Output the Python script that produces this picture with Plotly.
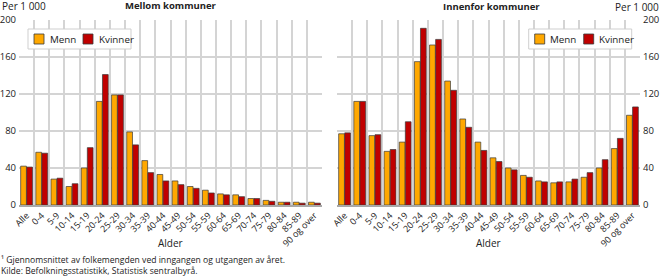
import plotly.graph_objects as go

categories = ["Alle", "0-4", "5-9", "10-14", "15-19", "20-24", "25-29", "30-34", "35-39",
              "40-44", "45-49", "50-54", "55-59", "60-64", "65-69", "70-74", "75-79",
              "80-84", "85-89", "90 og over"]

mellom_menn = [42, 57, 28, 20, 40, 112, 119, 79, 48, 33, 26, 20, 16, 12, 11, 7, 5, 3, 3, 3]
mellom_kvinner = [41, 56, 29, 23, 62, 141, 119, 65, 35, 26, 22, 18, 13, 11, 9, 7, 4, 3, 2, 2]
innen_menn = [77, 112, 75, 58, 68, 155, 173, 134, 93, 68, 51, 40, 32, 26, 24, 25, 30, 40, 61, 97]
innen_kvinner = [78, 112, 76, 60, 90, 191, 179, 124, 84, 59, 47, 38, 30, 25, 25, 28, 35, 49, 72, 106]

series_names = ["Menn", "Kvinner"]
yticks = [0, 40, 80, 120, 160, 200]

W, H = 662, 278
FONT = "Open Sans"
ORANGE = "#FFA800"
RED = "#C00000"
COLORS = [ORANGE, RED]
GRID = "#D4D4D4"
TXT = "#222222"
EDGE = "#3a3a3a"

x = list(range(len(categories)))

fig = go.Figure()
for vals, name, col, xa, ya in [
    (mellom_menn, series_names[0], ORANGE, "x", "y"),
    (mellom_kvinner, series_names[1], RED, "x", "y"),
    (innen_menn, series_names[0], ORANGE, "x2", "y2"),
    (innen_kvinner, series_names[1], RED, "x2", "y2"),
]:
    fig.add_trace(go.Bar(x=x, y=vals, name=name, marker=dict(color=col, line=dict(color=EDGE, width=0.7)),
                         xaxis=xa, yaxis=ya, showlegend=False))

ydom = [1 - 205 / H, 1 - 20 / H]
xdom1 = [19 / W, 322 / W]
xdom2 = [337 / W, 640 / W]

def xaxis(dom, anchor):
    return dict(domain=dom, anchor=anchor, range=[-0.5, len(categories) - 0.5],
                tickvals=x, ticktext=categories, tickangle=-45, showgrid=False,
                ticks="", tickfont=dict(size=9, color=TXT), ticklabelstandoff=0,
                minor=dict(tickvals=[i + 0.5 for i in range(-1, len(categories))], showgrid=True,
                           gridcolor=GRID, gridwidth=1.5, ticks=""),
                showline=True, linecolor="#A8A8A8", linewidth=1.5, mirror=False,
                zeroline=False, automargin=False)

def yaxis(anchor, side):
    return dict(domain=ydom, anchor=anchor, range=[0, 200], tickvals=yticks, side=side,
                showgrid=True, gridcolor=GRID, gridwidth=1.5, zeroline=False,
                tickfont=dict(size=9.5, color=TXT), ticks="", ticklabelstandoff=2,
                automargin=False)

fig.update_layout(
    width=W, height=H,
    margin=dict(l=0, r=0, t=0, b=0),
    paper_bgcolor="white", plot_bgcolor="white",
    font=dict(family=FONT, size=9, color=TXT),
    barmode="group", bargap=0.2, bargroupgap=0.05,
    xaxis=xaxis(xdom1, "y"), yaxis=yaxis("x", "left"),
    xaxis2=xaxis(xdom2, "y2"), yaxis2=yaxis("x2", "right"),
    showlegend=False,
)

def px(v):
    return v / W

def py(v):
    return 1 - v / H

# Legend boxes
shapes = []
ann = []
for x0 in (28, 528.7):
    shapes.append(dict(type="rect", xref="paper", yref="paper", x0=px(x0), x1=px(x0 + 103),
                       y0=py(49), y1=py(29), line=dict(color="#CFCFCF", width=1), fillcolor="white",
                       layer="above"))
    for i, (name, col) in enumerate(zip(series_names, COLORS)):
        sx = x0 + 6 + i * 49
        shapes.append(dict(type="rect", xref="paper", yref="paper", x0=px(sx), x1=px(sx + 10),
                           y0=py(44), y1=py(34), line=dict(color=EDGE, width=0.8), fillcolor=col,
                           layer="above"))
        ann.append(dict(text=name, x=px(sx + 13.5), y=py(39), xref="paper", yref="paper",
                        xanchor="left", yanchor="middle", showarrow=False,
                        font=dict(size=9.8, color=TXT)))

ann += [
    dict(text="Per 1 000", x=0, y=py(6), xref="paper", yref="paper", xanchor="left", yanchor="middle",
         showarrow=False, font=dict(size=10)),
    dict(text="Per 1 000", x=px(661), y=py(7), xref="paper", yref="paper", xanchor="right", yanchor="middle",
         showarrow=False, font=dict(size=10)),
    dict(text="<b>Mellom kommuner</b>", x=px(171), y=py(6), xref="paper", yref="paper", xanchor="center",
         yanchor="middle", showarrow=False, font=dict(size=9.5)),
    dict(text="<b>Innenfor kommuner</b>", x=px(491), y=py(7), xref="paper", yref="paper", xanchor="center",
         yanchor="middle", showarrow=False, font=dict(size=9.5)),
    dict(text="Alder", x=px(170.5), y=py(243), xref="paper", yref="paper", xanchor="center",
         yanchor="middle", showarrow=False, font=dict(size=10)),
    dict(text="Alder", x=px(488.5), y=py(243), xref="paper", yref="paper", xanchor="center",
         yanchor="middle", showarrow=False, font=dict(size=10)),
    dict(text="¹ Gjennomsnittet av folkemengden ved inngangen og utgangen av året.<br>"
              "Kilde: Befolkningsstatistikk, Statistisk sentralbyrå.",
         x=0, y=py(277.5), xref="paper", yref="paper", xanchor="left", yanchor="bottom", align="left",
         showarrow=False, font=dict(size=8.6), borderpad=0),
]
fig.update_layout(annotations=ann, shapes=shapes)

fig.write_html("out.html")
